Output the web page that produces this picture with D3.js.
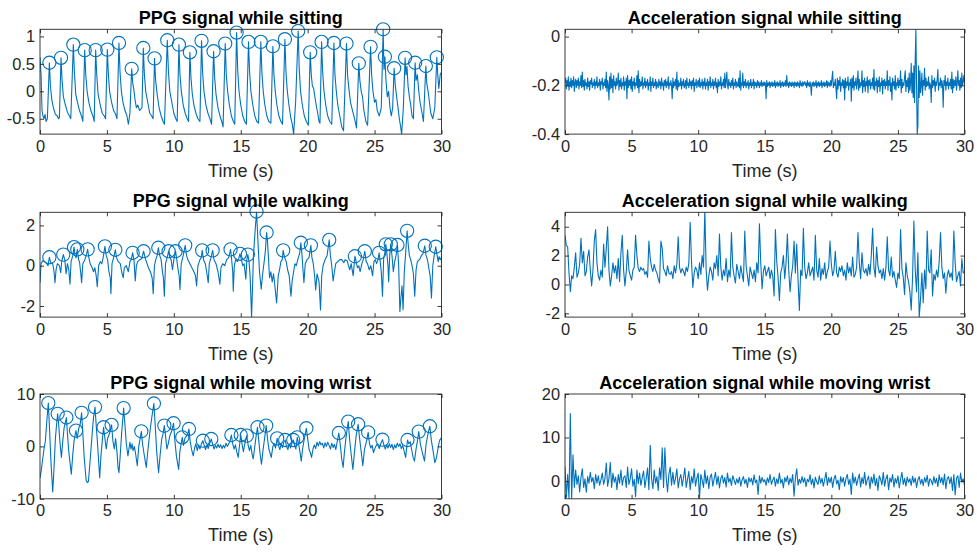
<!DOCTYPE html>
<html>
<head>
<meta charset="utf-8">
<script src="https://cdn.jsdelivr.net/npm/d3@7"></script>
<style>
  html, body { margin: 0; padding: 0; background: #fff; }
  svg { display: block; font-family: "Liberation Sans", Arial, Helvetica, sans-serif; }
</style>
</head>
<body>
<svg id="chart" width="977" height="552"></svg>
<script>
// ---- data -------------------------------------------------------------
const timeTicks = [0, 5, 10, 15, 20, 25, 30];
const timeRange = [0, 30];
const accSittingStep = 0.05; // seconds between samples
const accStep = 0.1;         // seconds between samples

// PPG while sitting: [time (s), amplitude]
const ppgSitting = [
  [0,0.62],[0.08,0.3],[0.15,-0.35],[0.22,-0.45],[0.3,-0.5],[0.38,-0.42],[0.45,-0.55],[0.55,-0.5],
  [0.70,0.52],[0.78,0.1],[0.88,-0.15],[1.0,-0.3],[1.15,-0.42],[1.3,-0.45],[1.38,-0.5],[1.45,-0.48],
  [1.57,0.61],[1.65,0.2],[1.75,-0.1],[1.9,-0.25],[2.05,-0.38],[2.2,-0.45],[2.3,-0.5],
  [2.49,0.85],[2.57,0.35],[2.67,-0.05],[2.8,-0.2],[2.95,-0.35],[3.1,-0.45],[3.2,-0.55],
  [3.34,0.75],[3.42,0.3],[3.52,0.0],[3.65,-0.2],[3.8,-0.35],[3.95,-0.45],[4.05,-0.55],
  [4.16,0.75],[4.24,0.3],[4.34,-0.05],[4.5,-0.25],[4.65,-0.4],[4.8,-0.45],[4.9,-0.5],
  [5.03,0.76],[5.11,0.3],[5.2,0.0],[5.35,-0.2],[5.5,-0.35],[5.65,-0.42],[5.75,-0.5],
  [5.90,0.88],[5.98,0.35],[6.08,0.0],[6.2,-0.2],[6.35,-0.35],[6.5,-0.45],[6.6,-0.6],[6.72,-0.4],
  [6.85,0.41],[6.93,0.15],[7.0,0.05],[7.1,-0.15],[7.2,-0.3],[7.3,-0.25],[7.45,-0.35],[7.55,-0.32],[7.62,-0.3],
  [7.72,0.79],[7.8,0.3],[7.9,0.0],[8.05,-0.2],[8.2,-0.4],[8.35,-0.45],[8.45,-0.5],
  [8.56,0.60],[8.64,0.2],[8.75,-0.05],[8.9,-0.3],[9.05,-0.45],[9.2,-0.55],[9.3,-0.6],
  [9.51,0.93],[9.6,0.35],[9.7,0.0],[9.85,-0.2],[10.0,-0.4],[10.15,-0.5],[10.25,-0.55],
  [10.38,0.85],[10.46,0.3],[10.56,0.0],[10.7,-0.25],[10.85,-0.4],[11.0,-0.5],[11.1,-0.55],
  [11.20,0.71],[11.28,0.25],[11.38,-0.05],[11.5,-0.25],[11.65,-0.4],[11.8,-0.5],[11.95,-0.55],
  [12.07,0.92],[12.15,0.35],[12.25,0.0],[12.4,-0.25],[12.55,-0.4],[12.7,-0.5],[12.82,-0.6],
  [12.97,0.73],[13.05,0.25],[13.15,-0.05],[13.3,-0.3],[13.45,-0.45],[13.58,-0.55],[13.68,-0.65],
  [13.84,0.87],[13.92,0.3],[14.02,0.0],[14.15,-0.25],[14.3,-0.45],[14.45,-0.55],[14.55,-0.6],
  [14.69,1.07],[14.77,0.4],[14.87,0.0],[15.0,-0.25],[15.15,-0.45],[15.3,-0.55],[15.42,-0.6],
  [15.58,0.90],[15.66,0.35],[15.76,0.0],[15.9,-0.25],[16.05,-0.45],[16.2,-0.55],[16.33,-0.58],
  [16.50,0.90],[16.58,0.35],[16.68,0.0],[16.8,-0.25],[16.95,-0.45],[17.1,-0.55],[17.25,-0.58],
  [17.40,0.82],[17.48,0.3],[17.58,0.0],[17.7,-0.25],[17.85,-0.45],[18.0,-0.55],[18.12,-0.6],
  [18.30,0.95],[18.38,0.35],[18.48,0.0],[18.6,-0.25],[18.75,-0.5],[18.85,-0.6],[18.95,-0.78],[19.1,-0.2],
  [19.29,1.10],[19.37,0.4],[19.47,0.0],[19.6,-0.25],[19.75,-0.45],[19.9,-0.55],[20.05,-0.62],
  [20.19,0.71],[20.27,0.3],[20.35,0.1],[20.45,0.05],[20.6,-0.2],[20.75,-0.4],[20.85,-0.55],[20.92,-0.58],
  [21.04,0.90],[21.12,0.35],[21.22,0.0],[21.35,-0.25],[21.5,-0.45],[21.65,-0.55],[21.8,-0.6],
  [21.96,0.88],[22.04,0.3],[22.14,0.0],[22.25,-0.25],[22.4,-0.45],[22.55,-0.65],[22.68,-0.72],
  [22.90,0.87],[22.98,0.3],[23.08,0.05],[23.2,-0.2],[23.3,-0.3],[23.45,-0.45],[23.55,-0.55],[23.65,-0.67],
  [23.82,0.51],[23.9,0.2],[24.0,0.0],[24.1,-0.1],[24.2,-0.35],[24.35,-0.55],[24.48,-0.62],
  [24.70,0.81],[24.78,0.3],[24.88,0.0],[25.0,-0.2],[25.1,-0.15],[25.2,-0.35],[25.35,-0.45],[25.5,-0.3],
  [25.64,1.13],[25.7,0.4],[25.77,0.63],[25.85,0.2],[25.95,-0.1],[26.05,0.0],[26.15,-0.3],[26.25,-0.45],[26.35,-0.3],
  [26.46,0.42],[26.55,0.1],[26.65,-0.1],[26.75,-0.3],[26.85,-0.5],[26.95,-0.65],[27.02,-0.78],[27.15,-0.3],
  [27.28,0.61],[27.35,0.3],[27.42,0.45],[27.5,0.1],[27.6,-0.1],[27.7,-0.25],[27.8,-0.45],[27.9,-0.5],
  [28.03,0.52],[28.1,0.2],[28.2,0.3],[28.3,0.0],[28.4,-0.2],[28.55,-0.4],[28.65,-0.55],
  [28.83,0.46],[28.9,0.15],[29.0,0.0],[29.1,-0.2],[29.2,-0.4],[29.35,-0.5],[29.5,-0.3],
  [29.65,0.62],[29.72,0.3],[29.8,0.05],[29.9,0.3],[30.0,0.35]
];
const ppgSittingPeaks = [0.70,1.57,2.49,3.34,4.16,5.03,5.90,6.85,7.72,8.56,9.51,10.38,11.20,12.07,12.97,
  13.84,14.69,15.58,16.50,17.40,18.30,19.29,20.19,21.04,21.96,22.90,23.82,24.70,25.64,25.77,26.46,27.28,
  28.03,28.83,29.65];

// PPG while walking
const ppgWalking = [
  [0,-0.85],[0.08,0.1],[0.2,0.25],[0.35,0.2],[0.5,0.1],[0.6,0.0],[0.7,0.42],[0.8,0.15],[0.95,0.1],[1.05,-0.3],
  [1.12,-0.84],[1.2,-0.2],[1.3,0.1],[1.45,0.0],[1.55,-0.35],[1.62,0.2],[1.74,0.55],[1.85,0.3],[1.95,-0.4],[2.05,0.1],
  [2.15,-0.2],[2.24,-0.92],[2.32,0.2],[2.45,0.5],[2.54,0.92],[2.62,0.5],[2.7,0.4],[2.79,0.81],[2.88,0.3],[2.95,0.2],
  [3.05,-0.4],[3.11,-0.84],[3.2,0.1],[3.35,0.3],[3.45,0.5],[3.56,0.81],[3.65,0.4],[3.75,0.1],[3.9,-0.1],[4.0,-0.3],
  [4.1,-0.1],[4.2,-0.5],[4.28,-1.04],[4.38,0.0],[4.5,0.2],[4.62,0.1],[4.72,0.4],[4.85,0.96],[4.95,0.5],[5.05,0.3],
  [5.15,-0.3],[5.25,-0.6],[5.3,-1.39],[5.38,0.1],[5.5,0.4],[5.63,0.79],[5.72,0.4],[5.85,0.2],[6.0,0.1],[6.1,-0.3],
  [6.22,-0.6],[6.3,-0.1],[6.45,0.0],[6.6,-0.3],[6.72,0.2],[6.82,0.3],[6.92,0.64],[7.02,0.3],[7.12,-0.76],[7.2,0.0],
  [7.3,0.2],[7.45,0.3],[7.6,0.35],[7.74,0.72],[7.85,0.4],[7.95,0.2],[8.1,-0.1],[8.25,-0.3],[8.38,-0.6],[8.46,-1.39],
  [8.55,0.0],[8.65,0.3],[8.75,0.5],[8.84,0.89],[8.95,0.5],[9.05,0.3],[9.15,-0.3],[9.22,-0.6],[9.29,-1.51],[9.38,0.1],
  [9.5,0.4],[9.61,0.72],[9.7,0.4],[9.8,0.3],[9.9,-0.2],[10.0,0.3],[10.13,0.72],[10.22,0.3],[10.32,-0.2],[10.4,-0.5],
  [10.46,-1.18],[10.55,0.1],[10.7,0.5],[10.85,1.01],[10.95,0.5],[11.05,0.3],[11.2,0.1],[11.35,-0.1],[11.5,-0.3],[11.62,-0.5],
  [11.7,-1.0],[11.8,0.0],[11.95,0.3],[12.05,0.4],[12.12,0.76],[12.22,0.3],[12.35,0.1],[12.45,-0.3],[12.57,-0.84],[12.65,0.1],
  [12.78,0.4],[12.9,0.76],[13.0,0.3],[13.15,0.1],[13.3,-0.3],[13.44,-0.92],[13.52,-0.1],[13.65,0.1],[13.8,0.0],[13.95,0.3],
  [14.1,0.4],[14.24,0.81],[14.32,0.3],[14.4,-0.3],[14.44,-1.26],[14.52,0.0],[14.62,0.3],[14.75,0.2],[14.85,0.35],[14.94,0.59],
  [15.05,0.3],[15.15,0.0],[15.25,0.1],[15.38,-0.67],[15.45,0.3],[15.53,0.55],[15.62,0.2],[15.7,-0.5],[15.81,-2.55],[15.95,0.5],
  [16.08,1.8],[16.18,2.69],[16.3,1.0],[16.4,-0.3],[16.53,-1.17],[16.62,-0.5],[16.75,0.2],[16.85,0.8],[16.93,1.65],[17.0,1.2],
  [17.08,0.3],[17.15,-0.6],[17.25,-0.3],[17.35,-0.8],[17.45,-0.4],[17.55,-1.0],[17.68,-1.85],[17.8,-0.5],[17.9,-0.2],[18.0,0.2],
  [18.1,0.3],[18.17,0.76],[18.28,0.4],[18.4,0.2],[18.5,-0.2],[18.62,-0.5],[18.75,-1.51],[18.85,-0.7],[18.95,-0.3],[19.05,0.1],
  [19.15,0.0],[19.3,0.4],[19.4,0.6],[19.49,1.14],[19.58,0.5],[19.65,-0.2],[19.72,-0.84],[19.82,0.1],[19.95,0.3],[20.1,0.4],
  [20.24,1.01],[20.32,0.4],[20.42,0.1],[20.52,-0.5],[20.6,-1.2],[20.7,-0.4],[20.85,-0.8],[20.96,-2.2],[21.05,-0.5],[21.15,0.0],
  [21.3,0.3],[21.45,0.5],[21.61,1.28],[21.7,0.5],[21.8,0.0],[21.9,-0.76],[22.0,-0.3],[22.1,0.1],[22.25,0.2],[22.4,0.3],
  [22.55,0.3],[22.7,0.15],[22.8,0.3],[22.95,0.25],[23.05,0.0],[23.15,-0.2],[23.25,0.1],[23.4,-0.5],[23.53,0.47],[23.62,0.2],
  [23.72,-0.1],[23.82,0.0],[23.92,-0.3],[24.05,0.1],[24.15,0.3],[24.27,0.72],[24.37,0.2],[24.47,0.1],[24.6,-0.2],[24.72,0.0],
  [24.85,-0.5],[24.95,0.2],[25.05,0.3],[25.15,0.1],[25.25,0.3],[25.34,0.64],[25.42,0.2],[25.5,-0.3],[25.59,-1.51],[25.68,0.4],
  [25.76,0.6],[25.84,1.06],[25.92,0.6],[26.0,0.0],[26.05,-0.8],[26.13,0.5],[26.21,1.06],[26.3,0.5],[26.4,-0.3],[26.5,0.2],
  [26.6,0.5],[26.71,1.03],[26.8,0.0],[26.89,-2.27],[26.98,-1.5],[27.05,-1.0],[27.13,-2.18],[27.22,-0.3],[27.32,0.6],[27.43,1.73],
  [27.52,1.0],[27.6,0.5],[27.7,0.3],[27.8,0.0],[27.9,-0.4],[28.0,-1.51],[28.1,-0.2],[28.2,0.2],[28.35,0.3],[28.5,0.5],
  [28.62,0.6],[28.75,0.99],[28.85,0.5],[28.95,0.3],[29.05,-0.1],[29.15,-0.5],[29.25,-1.6],[29.35,0.0],[29.45,0.5],[29.57,0.94],
  [29.65,0.6],[29.75,0.2],[29.82,0.45],[29.9,0.3],[30.0,0.42]
];
const ppgWalkingPeaks = [0.70,1.74,2.54,2.79,3.56,4.85,5.63,6.92,7.74,8.84,9.61,10.13,10.85,12.12,12.90,14.24,
  14.94,15.53,16.18,16.93,18.17,19.49,20.24,21.61,23.53,24.27,25.34,25.84,26.21,26.71,27.43,28.75,29.57];

// PPG while moving the wrist
const ppgWrist = [
  [0,-6.0],[0.1,-4.5],[0.2,-2.4],[0.3,-0.5],[0.4,1.0],[0.5,4.5],[0.62,8.27],[0.72,3.0],[0.82,-3.0],[0.95,-8.7],
  [1.05,-4.0],[1.15,1.5],[1.25,4.5],[1.32,6.22],[1.4,4.0],[1.5,0.5],[1.6,-2.1],[1.7,1.0],[1.8,3.5],[1.97,5.51],
  [2.05,2.5],[2.15,-1.0],[2.34,-5.3],[2.45,-1.5],[2.55,1.2],[2.69,3.01],[2.78,1.5],[2.9,3.5],[3.0,4.2],[3.11,6.41],
  [3.2,2.5],[3.3,-2.0],[3.45,-6.5],[3.53,-6.9],[3.62,-6.7],[3.75,-2.5],[3.9,2.5],[4.0,5.5],[4.11,7.5],[4.2,4.0],
  [4.3,0.5],[4.46,-6.0],[4.55,-2.0],[4.65,1.0],[4.75,3.65],[4.85,1.5],[4.95,-0.5],[5.05,1.5],[5.2,2.5],[5.35,4.1],
  [5.45,1.0],[5.55,-0.5],[5.65,1.5],[5.75,-1.0],[5.83,-4.0],[5.9,-5.0],[6.0,-1.5],[6.1,2.5],[6.25,7.31],[6.35,4.0],
  [6.45,0.5],[6.57,-1.8],[6.65,-0.4],[6.72,0.8],[6.8,-0.5],[6.88,0.5],[6.95,-0.8],[7.05,0.0],[7.15,-1.5],[7.27,-3.7],
  [7.38,0.0],[7.48,1.5],[7.57,2.88],[7.66,0.5],[7.78,-1.5],[7.94,-4.0],[8.05,-1.0],[8.2,2.5],[8.35,5.5],[8.51,8.2],
  [8.62,3.5],[8.72,-1.0],[8.86,-5.0],[8.98,-1.5],[9.1,1.5],[9.2,2.5],[9.29,3.97],[9.38,2.0],[9.48,-0.5],[9.58,0.5],
  [9.7,2.0],[9.85,3.0],[9.98,4.42],[10.08,1.0],[10.2,-2.0],[10.36,-4.4],[10.45,-1.0],[10.55,0.5],[10.63,1.73],[10.72,0.2],
  [10.82,1.5],[10.95,2.0],[11.05,2.5],[11.13,3.33],[11.22,1.0],[11.32,-0.5],[11.45,-1.8],[11.55,-0.3],[11.65,0.5],[11.75,-0.8],
  [11.85,0.3],[11.95,-0.5],[12.05,0.4],[12.17,1.09],[12.27,0.2],[12.37,-0.6],[12.47,0.3],[12.57,-0.4],[12.67,0.5],[12.8,1.41],
  [12.9,0.4],[13.0,-0.5],[13.1,0.2],[13.2,-0.3],[13.3,0.4],[13.4,-0.2],[13.5,0.3],[13.6,-0.4],[13.7,0.2],[13.8,-0.3],
  [13.9,0.6],[14.0,0.0],[14.1,0.5],[14.2,1.0],[14.3,2.18],[14.4,0.5],[14.5,-0.5],[14.6,0.3],[14.7,-1.0],[14.81,-2.1],
  [14.9,0.0],[15.0,2.18],[15.1,0.4],[15.2,-1.0],[15.3,0.5],[15.45,2.05],[15.55,0.3],[15.65,-0.8],[15.75,0.2],[15.85,-1.5],
  [15.93,-2.4],[16.05,0.0],[16.15,2.0],[16.25,3.65],[16.35,1.0],[16.45,-1.5],[16.55,-3.4],[16.65,-1.0],[16.78,1.5],[16.9,3.97],
  [17.0,1.5],[17.1,-0.5],[17.28,-2.1],[17.4,0.0],[17.5,0.5],[17.6,-0.3],[17.72,1.54],[17.82,0.2],[17.92,-0.6],[18.02,0.5],
  [18.12,-0.2],[18.22,0.8],[18.32,1.22],[18.42,0.0],[18.52,-0.6],[18.62,0.5],[18.72,-0.3],[18.82,0.6],[18.92,1.22],[19.02,0.2],
  [19.12,-0.5],[19.22,1.73],[19.32,0.5],[19.42,-1.0],[19.52,-2.8],[19.62,-0.5],[19.75,1.5],[19.9,3.46],[20.0,1.5],[20.1,-0.5],
  [20.2,-1.2],[20.29,-2.1],[20.4,-0.5],[20.5,0.3],[20.6,-0.4],[20.7,0.8],[20.8,0.1],[20.9,0.9],[21.0,0.3],[21.1,0.6],
  [21.2,-0.3],[21.3,0.7],[21.4,0.0],[21.5,0.8],[21.6,0.2],[21.7,-0.5],[21.8,0.6],[21.9,-0.2],[22.0,0.4],[22.1,-0.6],
  [22.2,0.8],[22.33,2.56],[22.45,0.0],[22.55,-2.5],[22.65,-4.0],[22.75,-1.0],[22.88,2.0],[23.03,4.74],[23.13,1.5],[23.25,-1.5],
  [23.38,-4.4],[23.5,-1.0],[23.62,2.0],[23.77,4.23],[23.88,1.5],[24.0,-1.0],[24.12,-3.7],[24.25,-0.5],[24.4,1.0],[24.52,2.69],
  [24.62,0.5],[24.72,-0.3],[24.82,0.2],[24.92,-1.2],[25.05,-0.2],[25.2,0.5],[25.35,-0.4],[25.47,0.6],[25.59,1.28],[25.7,0.2],
  [25.8,-0.5],[25.9,0.3],[26.0,-0.3],[26.1,0.5],[26.2,-0.2],[26.3,0.4],[26.4,-0.6],[26.5,0.3],[26.6,-0.3],[26.7,0.6],
  [26.8,0.0],[26.9,0.5],[27.0,-0.4],[27.1,0.2],[27.2,-0.8],[27.32,-2.1],[27.46,1.22],[27.56,0.5],[27.66,0.9],[27.76,-0.5],
  [27.88,-2.1],[27.98,-2.8],[28.1,-0.5],[28.2,1.0],[28.3,2.82],[28.42,0.5],[28.55,-1.0],[28.73,-2.8],[28.85,0.5],[29.0,2.5],
  [29.13,3.85],[29.25,1.0],[29.38,-1.0],[29.5,-3.1],[29.6,-2.4],[29.7,-1.0],[29.8,0.5],[29.87,1.2],[30.0,1.7]
];
const ppgWristPeaks = [0.62,1.32,1.97,2.69,3.11,4.11,4.75,5.35,6.25,7.57,8.51,9.29,9.98,10.63,11.13,12.17,12.8,
  14.3,15.0,15.45,16.25,16.9,17.72,18.32,18.92,19.22,19.9,22.33,23.03,23.77,24.52,25.59,27.46,28.3,29.13];

// Acceleration while sitting, one value every accSittingStep seconds (rows of 0.5 s)
const accSitting = [
  -0.19,-0.17,-0.215,-0.18,-0.2,-0.165,-0.22,-0.185,-0.205,-0.17,
  -0.21,-0.18,-0.2,-0.165,-0.225,-0.19,-0.175,-0.21,-0.18,-0.2,
  -0.17,-0.215,-0.185,-0.2,-0.16,-0.21,-0.145,-0.205,-0.18,-0.22,
  -0.175,-0.2,-0.19,-0.215,-0.17,-0.205,-0.185,-0.22,-0.18,-0.195,
  -0.17,-0.21,-0.19,-0.2,-0.175,-0.215,-0.185,-0.2,-0.165,-0.21,
  -0.19,-0.2,-0.175,-0.22,-0.185,-0.195,-0.17,-0.215,-0.19,-0.2,
  -0.175,-0.21,-0.145,-0.225,-0.18,-0.2,-0.26,-0.165,-0.215,-0.15,
  -0.21,-0.175,-0.23,-0.16,-0.2,-0.185,-0.215,-0.17,-0.2,-0.19,
  -0.15,-0.22,-0.18,-0.205,-0.17,-0.215,-0.19,-0.2,-0.165,-0.22,
  -0.185,-0.2,-0.17,-0.255,-0.16,-0.21,-0.18,-0.2,-0.175,-0.215,
  -0.165,-0.225,-0.185,-0.2,-0.17,-0.215,-0.19,-0.2,-0.16,-0.21,
  -0.14,-0.23,-0.175,-0.205,-0.185,-0.2,-0.165,-0.215,-0.19,-0.2,
  -0.17,-0.21,-0.185,-0.2,-0.175,-0.22,-0.19,-0.2,-0.165,-0.225,
  -0.185,-0.2,-0.17,-0.21,-0.19,-0.2,-0.175,-0.215,-0.185,-0.2,
  -0.21,-0.175,-0.2,-0.185,-0.215,-0.17,-0.2,-0.19,-0.22,-0.18,
  -0.2,-0.175,-0.21,-0.185,-0.2,-0.165,-0.215,-0.19,-0.2,-0.18,
  -0.2,-0.255,-0.17,-0.21,-0.185,-0.2,-0.175,-0.215,-0.145,-0.22,
  -0.18,-0.205,-0.19,-0.2,-0.17,-0.215,-0.185,-0.2,-0.175,-0.21,
  -0.2,-0.18,-0.215,-0.17,-0.2,-0.19,-0.21,-0.175,-0.2,-0.185,
  -0.215,-0.18,-0.2,-0.17,-0.225,-0.19,-0.2,-0.175,-0.21,-0.19,
  -0.18,-0.205,-0.17,-0.21,-0.19,-0.2,-0.175,-0.215,-0.185,-0.2,
  -0.17,-0.215,-0.19,-0.2,-0.175,-0.22,-0.185,-0.2,-0.165,-0.21,
  -0.19,-0.2,-0.175,-0.215,-0.185,-0.2,-0.17,-0.21,-0.19,-0.23,
  -0.175,-0.205,-0.185,-0.2,-0.165,-0.215,-0.19,-0.2,-0.175,-0.21,
  -0.15,-0.21,-0.185,-0.145,-0.2,-0.215,-0.175,-0.2,-0.19,-0.21,
  -0.18,-0.2,-0.17,-0.215,-0.19,-0.2,-0.175,-0.21,-0.185,-0.2,
  -0.205,-0.17,-0.21,-0.14,-0.22,-0.19,-0.2,-0.15,-0.21,-0.185,
  -0.2,-0.175,-0.21,-0.19,-0.2,-0.18,-0.215,-0.19,-0.2,-0.175,
  -0.21,-0.19,-0.2,-0.175,-0.215,-0.185,-0.2,-0.19,-0.21,-0.18,
  -0.2,-0.185,-0.21,-0.19,-0.2,-0.18,-0.205,-0.19,-0.2,-0.185,
  -0.2,-0.19,-0.255,-0.18,-0.205,-0.19,-0.2,-0.185,-0.21,-0.19,
  -0.2,-0.185,-0.205,-0.19,-0.2,-0.18,-0.21,-0.19,-0.2,-0.185,
  -0.205,-0.19,-0.2,-0.18,-0.21,-0.19,-0.2,-0.185,-0.205,-0.19,
  -0.2,-0.18,-0.205,-0.16,-0.2,-0.19,-0.21,-0.185,-0.2,-0.19,
  -0.205,-0.185,-0.2,-0.19,-0.21,-0.185,-0.2,-0.19,-0.205,-0.185,
  -0.2,-0.19,-0.21,-0.18,-0.2,-0.19,-0.205,-0.185,-0.2,-0.19,
  -0.185,-0.2,-0.19,-0.21,-0.18,-0.2,-0.19,-0.205,-0.185,-0.2,
  -0.24,-0.19,-0.2,-0.185,-0.205,-0.19,-0.2,-0.18,-0.21,-0.19,
  -0.2,-0.185,-0.205,-0.19,-0.2,-0.18,-0.21,-0.19,-0.2,-0.185,
  -0.205,-0.19,-0.2,-0.18,-0.21,-0.185,-0.2,-0.19,-0.205,-0.18,
  -0.2,-0.17,-0.142,-0.21,-0.19,-0.2,-0.175,-0.215,-0.255,-0.17,
  -0.215,-0.18,-0.2,-0.165,-0.225,-0.19,-0.2,-0.175,-0.21,-0.18,
  -0.26,-0.17,-0.21,-0.185,-0.2,-0.165,-0.22,-0.19,-0.2,-0.175,
  -0.265,-0.17,-0.21,-0.16,-0.22,-0.185,-0.2,-0.17,-0.215,-0.19,
  -0.14,-0.22,-0.175,-0.21,-0.19,-0.2,-0.14,-0.23,-0.18,-0.205,
  -0.17,-0.225,-0.185,-0.2,-0.165,-0.23,-0.18,-0.2,-0.175,-0.215,
  -0.19,-0.2,-0.17,-0.215,-0.135,-0.22,-0.185,-0.2,-0.17,-0.23,
  -0.18,-0.205,-0.165,-0.225,-0.19,-0.2,-0.17,-0.235,-0.18,-0.2,
  -0.175,-0.215,-0.185,-0.2,-0.14,-0.22,-0.18,-0.2,-0.165,-0.225,
  -0.19,-0.26,-0.17,-0.2,-0.185,-0.215,-0.16,-0.22,-0.19,-0.2,
  -0.17,-0.21,-0.18,-0.2,-0.14,-0.23,-0.175,-0.21,-0.19,-0.2,
  -0.165,-0.14,-0.225,-0.18,-0.205,-0.17,-0.23,-0.15,-0.22,-0.19,
  -0.11,-0.23,-0.15,-0.25,-0.12,-0.27,-0.09,0.03,-0.2,-0.4,
  -0.366,-0.12,-0.25,-0.14,-0.23,-0.2,-0.15,-0.24,-0.18,-0.2,
  -0.13,-0.22,-0.17,-0.205,-0.185,-0.2,-0.165,-0.215,-0.19,-0.2,
  -0.27,-0.16,-0.21,-0.18,-0.2,-0.17,-0.225,-0.185,-0.2,-0.175,
  -0.135,-0.22,-0.19,-0.2,-0.17,-0.21,-0.18,-0.2,-0.29,-0.18,
  -0.2,-0.16,-0.22,-0.185,-0.2,-0.17,-0.215,-0.19,-0.2,-0.175,
  -0.215,-0.145,-0.23,-0.175,-0.21,-0.18,-0.2,-0.165,-0.22,-0.19,
  -0.14,-0.2,-0.18,-0.22,-0.17,-0.21,-0.15,-0.2,-0.185,-0.16,
  -0.19
];

// Acceleration while walking, one value every accStep seconds
const accWalking = [
  3.4,2.7,2.6,0.8,-0.5,0.6,0.4,1.2,2.2,0.5,
  0.8,1.4,3.2,1.5,2.3,0.6,0.9,1.9,2.4,1.0,
  -0.1,1.0,3.0,3.8,1.5,0.6,0.3,1.0,0.5,2.8,
  1.2,2.5,4.0,1.0,-0.1,0.6,1.5,0.8,1.3,0.4,
  1.8,0.2,2.2,3.4,1.0,-0.1,0.9,2.4,1.0,0.6,
  0.3,1.0,1.2,3.4,2.0,1.1,0.9,1.2,1.0,1.1,
  0.7,0.9,0.5,3.0,1.8,1.2,0.9,1.4,1.0,0.8,
  0.4,0.1,3.0,2.5,1.1,0.9,0.6,1.3,0.8,0.7,
  0.9,0.4,1.3,0.8,1.4,3.3,1.2,0.8,1.1,0.9,
  0.6,1.2,0.9,1.5,4.3,1.6,-0.2,0.8,1.2,1.0,
  0.4,1.5,0.7,2.0,1.2,5.2,1.0,-0.4,0.6,1.2,
  0.9,0.3,1.5,1.1,2.0,0.6,3.5,1.2,0.3,1.0,
  0.6,1.8,0.2,1.0,0.5,3.6,1.2,0.6,0.1,1.4,
  0.9,0.4,1.3,0.7,0.2,3.7,1.3,0.6,-0.1,1.2,
  0.8,0.4,1.0,0.2,1.5,0.8,4.2,1.5,-0.3,0.9,
  1.3,0.6,0.9,1.2,0.4,1.0,0.6,-0.8,3.8,1.6,
  0.5,-1.1,0.8,1.2,2.0,0.4,1.5,3.5,1.0,-0.5,
  0.6,1.3,3.0,0.8,2.8,0.3,-1.8,1.0,0.6,3.9,
  1.2,0.4,0.8,1.5,0.6,0.9,1.2,0.3,3.4,1.0,
  0.5,1.8,0.3,1.1,0.7,1.5,0.4,0.9,1.2,3.0,
  1.4,0.6,1.0,2.3,0.8,0.5,1.2,0.9,1.3,0.6,
  1.0,0.3,1.5,0.8,1.2,0.6,1.9,0.5,0.7,1.2,
  3.6,1.5,0.4,2.2,1.0,0.8,1.1,0.6,1.4,0.7,
  2.0,3.9,1.2,0.5,2.6,1.3,0.8,1.0,0.4,1.1,
  0.3,1.2,3.3,1.0,0.6,1.9,0.5,0.9,0.3,-0.2,
  0.8,0.4,3.8,1.1,0.5,-0.7,1.5,0.6,0.2,-0.5,
  -1.77,0.5,4.4,1.0,-0.5,2.2,-2.26,-1.0,0.8,-1.26,
  1.0,-0.3,3.7,1.0,0.8,2.4,-0.8,0.7,0.3,1.0,
  0.5,1.6,3.6,1.2,0.4,0.8,-0.6,0.6,1.0,0.5,
  0.8,0.3,3.7,1.5,0.2,0.6,0.9,-0.1,1.8,0.8,
  0.9
];

// Acceleration while moving the wrist, one value every accStep seconds
const accWrist = [
  3.3,-3.8,1.5,-4.1,15.5,-4.1,6.0,-1.5,2.5,-0.8,
  1.2,-2.5,0.8,2.8,-1.5,0.5,-2.6,1.0,-0.5,2.0,
  -0.2,0.8,-1.8,1.5,-0.5,1.2,-1.0,0.3,1.8,-0.8,
  0.5,4.1,-1.2,0.6,4.3,-1.5,1.8,-0.3,0.9,-2.0,
  1.5,-0.5,2.5,-1.0,0.8,1.2,-1.5,3.2,-0.8,0.5,
  2.8,-1.2,0.4,-3.6,2.5,-0.6,1.8,-1.0,0.8,2.3,
  -1.5,0.6,3.0,-2.0,8.2,0.5,-1.8,2.5,-0.5,1.0,
  -2.2,3.0,0.3,7.6,-1.5,7.6,0.8,-2.5,1.5,3.2,
  -1.0,2.0,-0.8,0.6,2.8,-1.6,0.5,1.5,-1.2,0.8,
  3.0,-1.5,0.4,2.2,-2.0,1.0,-0.5,2.8,-1.2,0.6,
  1.8,-4.0,1.5,0.2,-1.5,2.5,-0.6,1.2,-1.8,0.9,
  1.6,-1.2,0.5,2.0,-0.8,1.1,-1.6,0.6,1.3,-0.5,
  0.8,-1.4,1.8,-0.3,0.6,-1.0,1.2,0.2,-0.8,0.5,
  -0.5,0.9,-1.2,0.3,1.0,-0.6,0.4,-1.5,0.8,-0.2,
  0.6,-0.9,1.4,-0.4,0.2,-3.1,1.2,-0.5,0.8,-0.2,
  0.3,-1.0,0.7,-0.4,1.5,-0.8,0.2,0.9,-1.2,0.5,
  -0.6,1.8,-0.5,0.4,-1.6,0.8,-0.2,1.2,-0.9,0.6,
  -0.4,1.5,-3.5,0.6,2.8,-1.0,0.4,-0.5,1.0,-0.3,
  0.7,-1.3,0.4,-0.2,1.4,-0.8,0.5,-1.6,0.9,-0.2,
  -0.8,1.2,-0.5,0.6,-1.2,0.3,2.0,-1.0,0.8,-0.4,
  0.9,-1.5,0.5,1.3,-0.7,0.2,-2.0,1.0,-0.3,0.8,
  -1.2,0.6,1.5,-0.8,0.4,-3.1,1.8,-0.5,0.9,-1.0,
  0.4,1.6,-1.4,0.8,-0.6,2.0,-1.0,0.3,1.1,-1.8,
  0.9,-0.5,1.6,-1.1,0.6,-2.2,1.2,0.4,-0.9,2.0,
  -1.2,0.5,1.4,-2.0,0.7,-0.3,1.5,-1.4,0.6,-0.5,
  1.2,-1.6,0.4,2.0,-0.8,0.6,-1.2,0.9,-0.3,0.5,
  -1.0,1.1,-0.4,0.7,-1.5,0.3,1.0,-0.7,0.4,-1.1,
  0.8,-0.3,1.3,-1.2,0.5,0.1,-0.9,1.0,-0.5,0.6,
  -1.3,1.4,-0.4,0.8,-0.9,1.6,-1.8,0.5,1.0,-0.6,
  0.9,-2.2,1.5,-3.2,0.6,1.2,-1.5,1.8,-0.3,0.5,
  -1.0
];

// ---- layout & style ---------------------------------------------------
const LINE = "#0072BD";
const AXIS = "#262626";
const columns = [{ left: 40, width: 401.5 }, { left: 565, width: 399.5 }];
const rows = [29.3, 212.3, 394];
const panelH = 104.8;

const asPoints = (vals, step) => vals.map((v, i) => [i * step, v]);

const panels = [
  { col: 0, row: 0, title: "PPG signal while sitting", yDomain: [-0.78, 1.13], yTicks: [-0.5, 0, 0.5, 1],
    data: ppgSitting, peaks: ppgSittingPeaks },
  { col: 0, row: 1, title: "PPG signal while walking", yDomain: [-2.55, 2.65], yTicks: [-2, 0, 2],
    data: ppgWalking, peaks: ppgWalkingPeaks },
  { col: 0, row: 2, title: "PPG signal while moving wrist", yDomain: [-10, 10], yTicks: [-10, 0, 10],
    data: ppgWrist, peaks: ppgWristPeaks },
  { col: 1, row: 0, title: "Acceleration signal while sitting", yDomain: [-0.4, 0.03], yTicks: [-0.4, -0.2, 0],
    data: asPoints(accSitting, accSittingStep), peaks: [] },
  { col: 1, row: 1, title: "Acceleration signal while walking", yDomain: [-2.26, 5], yTicks: [-2, 0, 2, 4],
    data: asPoints(accWalking, accStep), peaks: [] },
  { col: 1, row: 2, title: "Acceleration signal while moving wrist", yDomain: [-4.1, 20], yTicks: [0, 10, 20],
    data: asPoints(accWrist, accStep), peaks: [] }
];

const svg = d3.select("#chart");
svg.append("rect").attr("width", 977).attr("height", 552).attr("fill", "#fff");

panels.forEach((p, idx) => {
  const left = columns[p.col].left, w = columns[p.col].width, top = rows[p.row], h = panelH;
  const x = d3.scaleLinear().domain(timeRange).range([0, w]);
  const y = d3.scaleLinear().domain(p.yDomain).range([h, 0]);
  const g = svg.append("g").attr("transform", `translate(${left},${top})`);

  const clipId = "clip" + idx;
  g.append("clipPath").attr("id", clipId)
    .append("rect").attr("width", w).attr("height", h);

  // signal trace
  g.append("path")
    .datum(p.data)
    .attr("clip-path", `url(#${clipId})`)
    .attr("fill", "none")
    .attr("stroke", LINE)
    .attr("stroke-width", 1.1)
    .attr("stroke-linejoin", "round")
    .attr("d", d3.line().x(d => x(d[0])).y(d => y(d[1])));

  // detected peaks, marked with open circles on the trace
  const peakPts = p.peaks.map(t => p.data.find(d => Math.abs(d[0] - t) < 1e-6)).filter(Boolean);
  g.selectAll("circle.peak").data(peakPts).join("circle")
    .attr("class", "peak")
    .attr("cx", d => x(d[0])).attr("cy", d => y(d[1]))
    .attr("r", 6.6)
    .attr("fill", "none")
    .attr("stroke", LINE)
    .attr("stroke-width", 1.1);

  // axes: ticks point inward on all four sides
  const fmt = d => String(d);
  const styleAxis = sel => {
    sel.select(".domain").remove();
    sel.selectAll("line").attr("stroke", AXIS).attr("stroke-width", 0.9);
    sel.selectAll("text").attr("fill", AXIS).style("font-size", "16.4px")
      .style("font-family", '"Liberation Sans", Arial, sans-serif');
  };
  g.append("g").attr("transform", `translate(0,${h})`)
    .call(d3.axisBottom(x).tickValues(timeTicks).tickFormat(fmt).tickSizeInner(-4).tickSizeOuter(0).tickPadding(6))
    .call(styleAxis);
  g.append("g")
    .call(d3.axisTop(x).tickValues(timeTicks).tickFormat("").tickSizeInner(-4).tickSizeOuter(0))
    .call(styleAxis);
  g.append("g")
    .call(d3.axisLeft(y).tickValues(p.yTicks).tickFormat(fmt).tickSizeInner(-4).tickSizeOuter(0).tickPadding(5))
    .call(styleAxis);
  g.append("g").attr("transform", `translate(${w},0)`)
    .call(d3.axisRight(y).tickValues(p.yTicks).tickFormat("").tickSizeInner(-4).tickSizeOuter(0))
    .call(styleAxis);

  g.append("rect").attr("width", w).attr("height", h)
    .attr("fill", "none").attr("stroke", AXIS).attr("stroke-width", 0.9);

  g.append("text")
    .attr("x", w / 2).attr("y", -5.5)
    .attr("text-anchor", "middle")
    .attr("fill", "#000")
    .style("font-size", "18px").style("font-weight", "bold")
    .text(p.title);

  g.append("text")
    .attr("x", w / 2).attr("y", h + 42.5)
    .attr("text-anchor", "middle")
    .attr("fill", AXIS)
    .style("font-size", "18px")
    .text("Time (s)");
});
</script>
</body>
</html>
